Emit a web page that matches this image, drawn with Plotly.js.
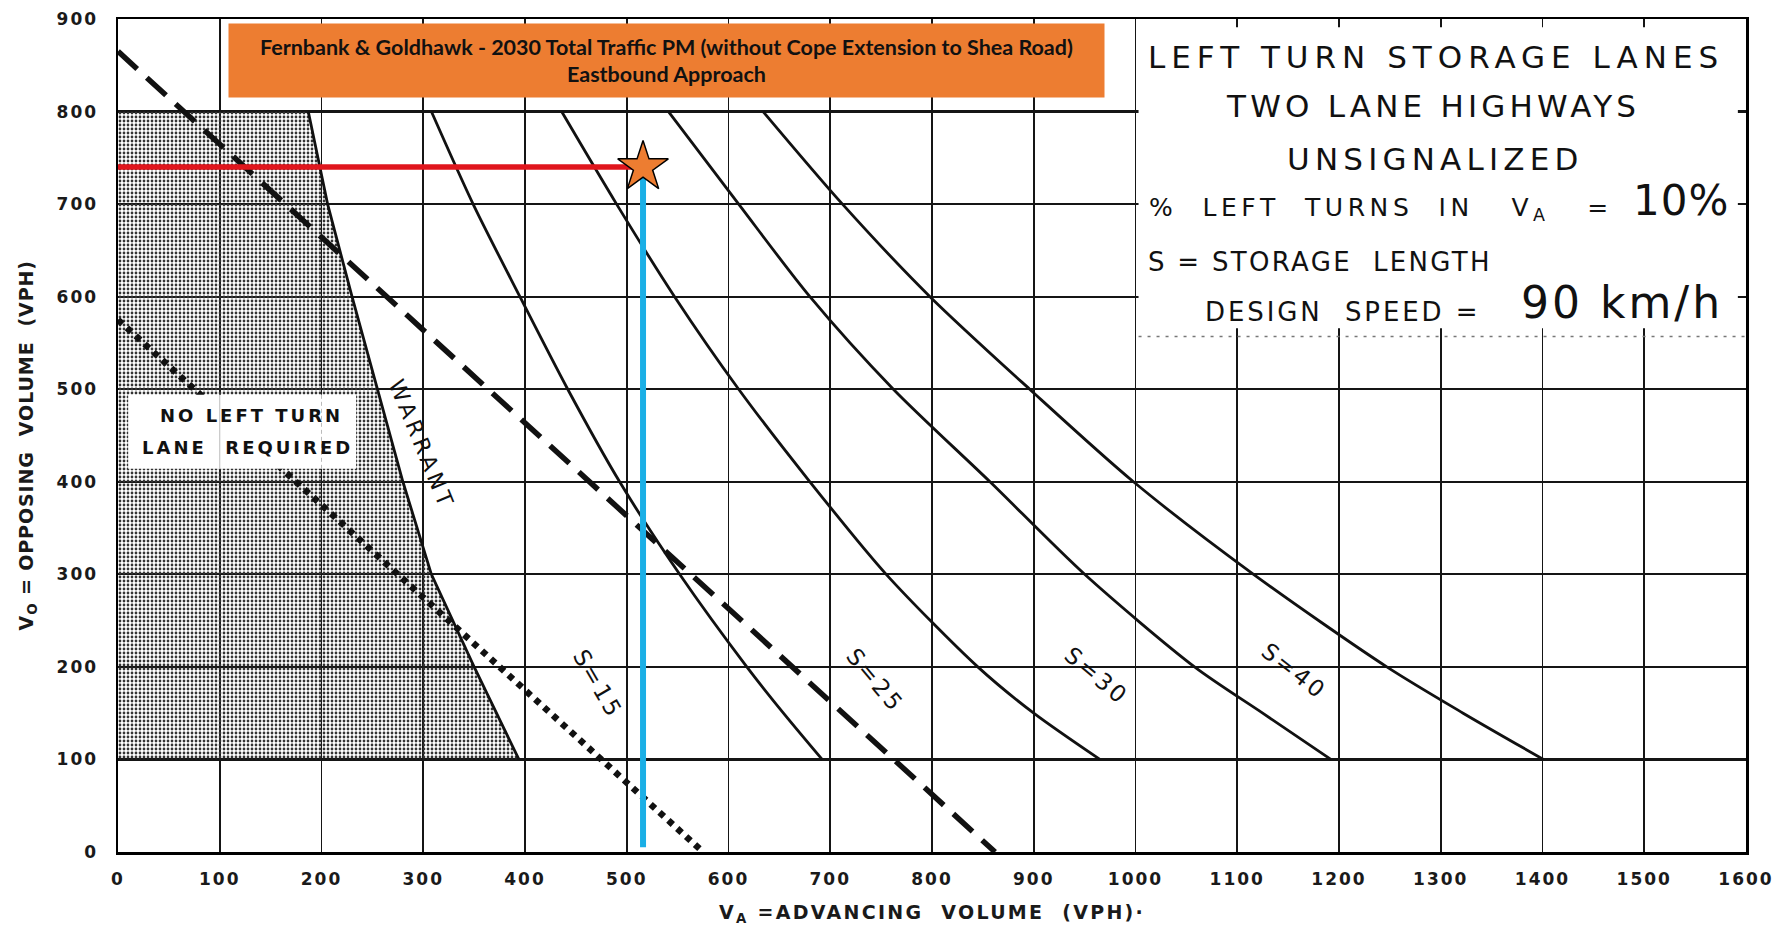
<!DOCTYPE html>
<html><head><meta charset="utf-8">
<script src="https://cdn.plot.ly/plotly-3.0.1.min.js"></script>
<style>html,body{margin:0;padding:0;background:#fff}#chart{width:1788px;height:930px}</style>
</head><body><div id="chart"></div>
<script>
// ---- data ----
const warrantX = [187, 206, 230, 255, 280, 308, 350, 394];
const warrantY = [800, 700, 600, 500, 400, 300, 200, 100];
const curveY   = [800, 700, 600, 500, 400, 300, 200, 150, 100];
const s15X = [308, 349, 395, 442, 493, 552, 618, 654, 692];
const s25X = [436, 490, 547, 610, 680, 755, 845, 900, 965];
const s30X = [541, 610, 680, 762, 857, 950, 1058, 1125, 1192];
const s40X = [634, 712, 798, 896, 998, 1116, 1247, 1322, 1401];
const dashedX = [0, 862];
const dashedY = [865, 0];
const dottedX = [0, 575];
const dottedY = [575, 0];
const pointVA = 516;
const pointVO = 740;
const blueFloor = 5;
const xTickLabels = ['0','100','200','300','400','500','600','700','800','900','1000','1100','1200','1300','1400','1500','1600'];
const yTickLabels = ['0','100','200','300','400','500','600','700','800','900'];
const titleLine1 = 'Fernbank & Goldhawk - 2030 Total Traffic PM (without Cope Extension to Shea Road)';
const titleLine2 = 'Eastbound Approach';
const curveLabels = ['S=15', 'S=25', 'S=30', 'S=40'];

// ---- helpers ----
const FONT = 'DejaVu Sans, Liberation Sans, sans-serif';
const ls = (t, px) => `<span style="letter-spacing:${px}px">${t}</span>`;
const INK = '#111';

// shaded "no left turn lane" polygon built from warrant line
const shadeX = [0].concat(warrantX, [0]);
const shadeY = [warrantY[0]].concat(warrantY, [warrantY[warrantY.length - 1]]);

const curveLine = { color: INK, width: 2.8, shape: 'spline', smoothing: 0.8 };

const traces = [
  { x: shadeX, y: shadeY, mode: 'lines', fill: 'toself', line: { width: 0 },
    fillcolor: 'rgba(160,160,160,0.3)',
    fillpattern: { shape: '.', size: 4, solidity: 0.38, fgcolor: '#333', bgcolor: 'rgba(0,0,0,0)' },
    hoverinfo: 'skip' },
  { x: dottedX, y: dottedY, mode: 'lines', line: { color: INK, width: 6.5, dash: '6px,6px' } },
  { x: dashedX, y: dashedY, mode: 'lines', line: { color: INK, width: 5.5, dash: '26px,13px' } },
  { x: warrantX, y: warrantY, mode: 'lines', line: { color: INK, width: 2.8 } },
  { x: s15X, y: curveY, mode: 'lines', line: curveLine },
  { x: s25X, y: curveY, mode: 'lines', line: curveLine },
  { x: s30X, y: curveY, mode: 'lines', line: curveLine },
  { x: s40X, y: curveY, mode: 'lines', line: curveLine },
  { x: [0, pointVA], y: [pointVO, pointVO], mode: 'lines', line: { color: '#E0161D', width: 5.5 } },
  { x: [pointVA, pointVA], y: [pointVO, blueFloor], mode: 'lines', line: { color: '#1AAFE6', width: 6 } },
  { x: [pointVA], y: [pointVO], mode: 'markers',
    marker: { symbol: 'star', size: 38, color: '#ED7D31', line: { color: '#000', width: 1.5 } } }
];

const tickFont = { family: FONT, size: 17, color: '#1a1a1a', weight: 'bold' };
const a = (o) => Object.assign({ xref: 'x', yref: 'y', showarrow: false }, o);

const annotations = [
  // orange title box
  a({ x: 538.8, y: 855.5,
    text: `<b>${titleLine1}</b><br><b>${titleLine2}</b>`,
    font: { family: 'Lato, Open Sans, sans-serif', size: 21.5, color: '#111' },
    bgcolor: '#ED7D31', width: 875, height: 73, borderpad: 0, align: 'center', valign: 'middle' }),
  // right text box
  a({ x: 1295.7, y: 859, xanchor: 'center', yanchor: 'middle',
    text: ls('LEFT TURN STORAGE LANES', 6), font: { family: FONT, size: 31, color: INK } }),
  a({ x: 1292.6, y: 806, xanchor: 'center', yanchor: 'middle',
    text: ls('TWO LANE HIGHWAYS', 4.2), font: { family: FONT, size: 31, color: INK } }),
  a({ x: 1294.6, y: 748.8, xanchor: 'center', yanchor: 'middle',
    text: ls('UNSIGNALIZED', 5.2), font: { family: FONT, size: 31, color: INK } }),
  a({ x: 1011, y: 695, xanchor: 'left', yanchor: 'middle',
    text: ls('%&nbsp; LEFT&nbsp; TURNS&nbsp; IN&nbsp;&nbsp; V<sub>A</sub>&nbsp;&nbsp; =', 4.6), font: { family: FONT, size: 25, color: INK } }),
  a({ x: 1487, y: 704, xanchor: 'left', yanchor: 'middle',
    text: ls('10%', 1), font: { family: FONT, size: 42, color: INK } }),
  a({ x: 1010, y: 638, xanchor: 'left', yanchor: 'middle',
    text: ls('S = STORAGE&nbsp; LENGTH', 2.3), font: { family: FONT, size: 26, color: INK } }),
  a({ x: 1066, y: 583.8, xanchor: 'left', yanchor: 'middle',
    text: ls('DESIGN&nbsp; SPEED =', 2.9), font: { family: FONT, size: 26, color: INK } }),
  a({ x: 1377, y: 593.7, xanchor: 'left', yanchor: 'middle',
    text: ls('90 km/h', 3), font: { family: FONT, size: 44, color: INK } }),
  // in-plot labels
  a({ x: 298.6, y: 440.7, textangle: 67.6,
    text: ls('WARRANT', 4), font: { family: FONT, size: 22, color: INK } }),
  a({ x: 472, y: 182, textangle: 60,
    text: ls(curveLabels[0], 3), font: { family: FONT, size: 23, color: INK } }),
  a({ x: 744, y: 186, textangle: 50,
    text: ls(curveLabels[1], 3), font: { family: FONT, size: 23, color: INK } }),
  a({ x: 962, y: 190, textangle: 40,
    text: ls(curveLabels[2], 3), font: { family: FONT, size: 23, color: INK } }),
  a({ x: 1156, y: 196, textangle: 38,
    text: ls(curveLabels[3], 3), font: { family: FONT, size: 23, color: INK } }),
  a({ x: 131, y: 471.6,
    text: ls('<b>NO LEFT TURN</b>', 3), font: { family: FONT, size: 18, color: INK } }),
  a({ x: 127, y: 437,
    text: ls('<b>LANE&nbsp; REQUIRED</b>', 3), font: { family: FONT, size: 18, color: INK } }),
  // axis titles
  { xref: 'paper', yref: 'paper', x: 0.5, y: -0.074, showarrow: false, yanchor: 'middle',
    text: ls('<b>V<sub>A</sub> =ADVANCING&nbsp; VOLUME&nbsp; (VPH)·</b>', 2.3), font: { family: FONT, size: 19, color: '#1a1a1a' } },
  { xref: 'paper', yref: 'paper', x: -0.0553, y: 0.488, showarrow: false, textangle: -90, xanchor: 'center', yanchor: 'middle',
    text: ls('<b>V<sub>O</sub> = OPPOSING&nbsp; VOLUME&nbsp; (VPH)</b>', 0.9), font: { family: FONT, size: 19, color: '#1a1a1a' } }
];

const shapes = [
  // white background of the right-hand legend box
  { type: 'rect', xref: 'x', yref: 'y', x0: 1003, x1: 1592, y0: 566, y1: 891,
    fillcolor: '#fff', line: { width: 0 }, layer: 'above' },
  { type: 'line', xref: 'x', yref: 'y', x0: 1003, x1: 1600, y0: 557, y1: 557,
    line: { color: '#777', width: 1.5, dash: '3px,6px' }, layer: 'above' },
  // blank label box inside shaded area
  { type: 'rect', xref: 'x', yref: 'y', x0: 10, x1: 234, y0: 414, y1: 494,
    fillcolor: '#fff', line: { width: 0 }, layer: 'above' },
  { type: 'line', xref: 'x', yref: 'y', x0: 100, x1: 100, y0: 414, y1: 494,
    line: { color: '#bbb', width: 1 }, layer: 'above' },
  { type: 'line', xref: 'x', yref: 'y', x0: 200, x1: 200, y0: 414, y1: 494,
    line: { color: '#bbb', width: 1, dash: '4px,3px' }, layer: 'above' }
];

const layout = {
  width: 1788, height: 930,
  margin: { l: 118, r: 42, t: 19, b: 78 },
  paper_bgcolor: '#fff', plot_bgcolor: '#fff',
  showlegend: false,
  xaxis: {
    range: [0, 1600], tickvals: xTickLabels.map(Number), ticktext: xTickLabels.map(t => ls(t, 2)),
    showgrid: true, gridcolor: '#151515', gridwidth: 1.8, zeroline: false,
    showline: true, mirror: true, linecolor: '#000', linewidth: 2.5,
    ticks: '', ticklabelstandoff: 10, tickfont: tickFont, fixedrange: true
  },
  yaxis: {
    range: [0, 900], tickvals: yTickLabels.map(Number), ticktext: yTickLabels.map(t => ls(t, 2)),
    showgrid: true, gridcolor: '#151515', gridwidth: 2.2, zeroline: false,
    showline: true, mirror: true, linecolor: '#000', linewidth: 2.5,
    ticks: '', ticklabelstandoff: 14, tickfont: tickFont, fixedrange: true
  },
  annotations: annotations,
  shapes: shapes
};

Plotly.newPlot('chart', traces, layout, { displayModeBar: false, staticPlot: true });
</script>
</body></html>
